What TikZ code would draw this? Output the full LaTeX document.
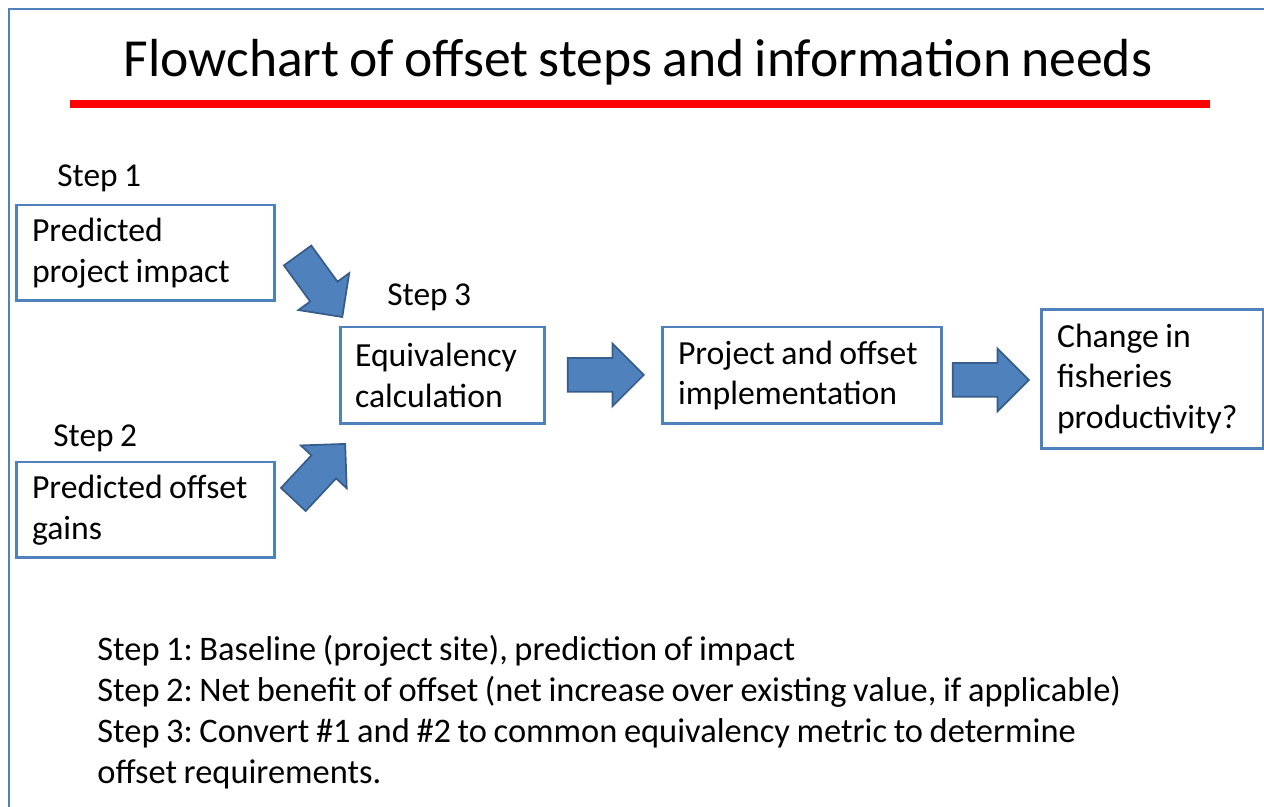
\documentclass[tikz,border=0pt]{standalone}
\usepackage{fontspec}
\setmainfont{Carlito}[WordSpace=0.85]
\usetikzlibrary{shapes.arrows}
\definecolor{boxblue}{RGB}{79,129,189}
\definecolor{arrowedge}{RGB}{56,93,138}
\definecolor{titlered}{RGB}{255,0,0}

\begin{document}
\frenchspacing
\begin{tikzpicture}
	[x=0.02cm, y=0.02cm,
	stepbox/.style = {draw=boxblue, line width=1.7pt, align=flush left, inner xsep=0.32cm, inner ysep=0pt, minimum height=1.92cm, font=\fontsize{19.2}{23.2}\selectfont},
	steplabel/.style = {anchor=west, inner sep=0pt, font=\fontsize{19}{23.2}\selectfont},
	blockarrow/.style = {single arrow, draw=arrowedge, fill=boxblue, line width=1pt, minimum height=1.52cm, inner xsep=0pt, inner ysep=0.32cm, single arrow head extend=0.29cm, anchor=tip},
	note/.style = {anchor=base west, inner sep=0pt, font=\fontsize{19.6}{23.2}\selectfont}
	]
	\useasboundingbox (0,0) rectangle (1264,807);
	\draw[boxblue, line width=1.2pt] (9,0) -- (9,798) -- (1264,798);

	\node (title) at (638,745) {\fontsize{30.5}{36}\selectfont Flowchart of offset steps and information needs};
	\draw[titlered, line width=4.5pt] (70,703) -- (1210,703);

	% steps
	\node[steplabel] (s1) at (57,629) {Step 1};
	\node[steplabel] (s2) at (53,369) {Step 2};
	\node[steplabel] (s3) at (387,510) {Step 3};

	\node[stepbox, text width=4.54cm] (impact) at (145.5,554) {Predicted\\project impact};
	\node[stepbox, text width=4.54cm] (gains) at (145.5,297) {Predicted offset\\gains};
	\node[stepbox, text width=3.5cm, inner xsep=0.3cm, minimum height=1.94cm] (equiv) at (442.5,431.5) {Equivalency\\calculation};
	\node[stepbox, text width=4.96cm, minimum height=1.94cm] (impl) at (802,431.5) {Project and offset\\implementation};
	\node[stepbox, text width=3.8cm, minimum height=2.78cm] (change) at (1152,428) {Change in\\fisheries\\productivity?};

	% block arrows between the boxes (placed by their tips)
	\node[blockarrow, rotate=-54] (a1) at (343,489) {};
	\node[blockarrow, rotate=47] (a2) at (346,364) {};
	\node[blockarrow] (a3) at (645,432) {};
	\node[blockarrow] (a4) at (1030,427) {};

	% notes
	\node[note] (n1) at (97,146) {Step 1: Baseline (project site), prediction of impact};
	\node[note] (n2) at (97,105) {Step 2: Net benefit of offset (net increase over existing value, if applicable)};
	\node[note] (n3) at (97,64) {Step 3: Convert \#1 and \#2 to common equivalency metric to determine};
	\node[note] (n4) at (97,23) {offset requirements.};
\end{tikzpicture}
\end{document}
